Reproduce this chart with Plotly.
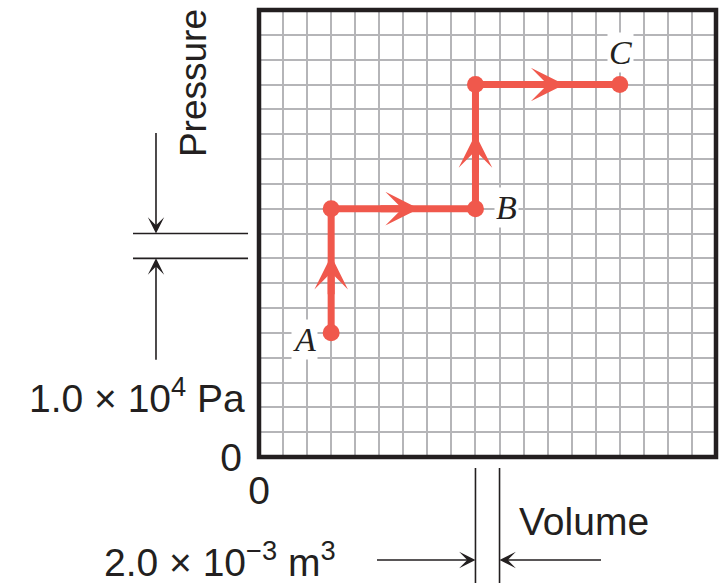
import plotly.graph_objects as go

# ---- data (volume in units of 1e-3 m^3, pressure in units of 1e4 Pa) ----
point_labels = ["A", "", "B", "", "C"]
volume = [6, 6, 18, 18, 30]
pressure = [5, 10, 10, 15, 15]

# arrowhead tip positions along the path
arrow_volume = [6, 13.3, 18, 25.4]
arrow_pressure = [8.1, 10, 13.0, 15]
arrow_dir = ["up", "right", "up", "right"]

# axis extents and grid spacing (one cell = 2.0e-3 m^3 by 1.0e4 Pa)
vol_max, vol_step = 38, 2
press_max, press_step = 18, 1
vol_ticks = list(range(0, vol_max + 1, vol_step))
press_ticks = list(range(0, press_max + 1, press_step))
vol_ticktext = ["0"] + [""] * (len(vol_ticks) - 1)
press_ticktext = ["0"] + [""] * (len(press_ticks) - 1)

# scale-bar markers (one grid cell each)
press_scale = [8, 9]
vol_scale = [18, 20]

RED = "#f0584c"
INK = "#231f20"
GRID = "#b5b5b8"
FONT = "Liberation Sans"
FS = 39

fig = go.Figure()

fig.add_trace(go.Scatter(
    x=volume, y=pressure, mode="lines+markers",
    line=dict(color=RED, width=7),
    marker=dict(color=RED, size=17),
    hoverinfo="skip", showlegend=False, cliponaxis=False,
))

annotations = []
# red arrowheads
for xv, yv, d in zip(arrow_volume, arrow_pressure, arrow_dir):
    ax, ay = (0, 40) if d == "up" else (-40, 0)
    annotations.append(dict(
        x=xv, y=yv, xref="x", yref="y", ax=ax, ay=ay, text="",
        showarrow=True, arrowhead=3, arrowcolor=RED, arrowwidth=7,
        arrowsize=0.8, standoff=0,
    ))

# point labels
label_shift = {"A": (-27, -7), "B": (31, 1), "C": (1, 32)}
for lab, xv, yv in zip(point_labels, volume, pressure):
    if not lab:
        continue
    dx, dy = label_shift[lab]
    annotations.append(dict(
        x=xv, y=yv, xref="x", yref="y", text=lab, showarrow=False,
        xshift=dx, yshift=dy, bgcolor="white", borderpad=1,
        font=dict(family="Liberation Serif", size=34, color=INK, style="italic"),
    ))

# dimension arrows (pressure scale, left)
annotations.append(dict(x=-0.2254, y=press_scale[1], xref="paper", yref="y",
                        ax=0, ay=-102, text="", showarrow=True, arrowhead=3,
                        arrowcolor=INK, arrowwidth=1.6, arrowsize=1.7))
annotations.append(dict(x=-0.2254, y=press_scale[0], xref="paper", yref="y",
                        ax=0, ay=103, text="", showarrow=True, arrowhead=3,
                        arrowcolor=INK, arrowwidth=1.6, arrowsize=1.7))
# dimension arrows (volume scale, bottom)
annotations.append(dict(x=vol_scale[0], y=-0.2304, xref="x", yref="paper",
                        ax=-100, ay=0, text="", showarrow=True, arrowhead=3,
                        arrowcolor=INK, arrowwidth=1.6, arrowsize=1.7))
annotations.append(dict(x=vol_scale[1], y=-0.2304, xref="x", yref="paper",
                        ax=103, ay=0, text="", showarrow=True, arrowhead=3,
                        arrowcolor=INK, arrowwidth=1.6, arrowsize=1.7))

# text labels
annotations.append(dict(x=-0.142, y=0.8367, xref="paper", yref="paper",
                        text="Pressure", textangle=-90, showarrow=False,
                        xanchor="center", yanchor="middle",
                        font=dict(family=FONT, size=37, color=INK)))
annotations.append(dict(x=-0.0263, y=0.138, xref="paper", yref="paper",
                        text="1.0 × 10<sup>4</sup> Pa", showarrow=False,
                        xanchor="right", yanchor="middle",
                        font=dict(family=FONT, size=FS, color=INK)))
annotations.append(dict(x=-0.0853, y=-0.2285, xref="paper", yref="paper",
                        text="2.0 × 10<sup>−3</sup> m<sup>3</sup>", showarrow=False,
                        xanchor="center", yanchor="middle",
                        font=dict(family=FONT, size=FS, color=INK)))
annotations.append(dict(x=0.5646, y=-0.1454, xref="paper", yref="paper",
                        text="Volume", showarrow=False,
                        xanchor="left", yanchor="middle",
                        font=dict(family=FONT, size=FS, color=INK)))

shapes = [
    # plot border
    dict(type="rect", xref="paper", yref="paper", x0=0, x1=1, y0=0, y1=1,
         line=dict(color=INK, width=4.5), layer="above"),
]
for pv in press_scale:
    shapes.append(dict(type="line", xref="paper", yref="y", x0=-0.2757, x1=-0.024,
                       y0=pv, y1=pv, line=dict(color=INK, width=1.6)))
for vv in vol_scale:
    shapes.append(dict(type="line", xref="x", yref="paper", x0=vv, x1=vv,
                       y0=-0.0246, y1=-0.2819, line=dict(color=INK, width=1.6)))

fig.update_layout(
    width=719, height=583, autosize=False,
    margin=dict(l=259, r=3, t=10, b=126),
    paper_bgcolor="white", plot_bgcolor="white",
    annotations=annotations, shapes=shapes,
    hovermode=False,
)
fig.update_xaxes(range=[0, vol_max], tickmode="array", tickvals=vol_ticks,
                 ticktext=vol_ticktext, showgrid=True, gridcolor=GRID, gridwidth=2,
                 zeroline=False, showline=False, ticks="", fixedrange=True,
                 ticklabelstandoff=7,
                 tickfont=dict(family=FONT, size=FS, color=INK))
fig.update_yaxes(range=[0, press_max], tickmode="array", tickvals=press_ticks,
                 ticktext=press_ticktext, showgrid=True, gridcolor=GRID, gridwidth=2,
                 zeroline=False, showline=False, ticks="", fixedrange=True,
                 ticklabelstandoff=16,
                 tickfont=dict(family=FONT, size=FS, color=INK))

# remove the default page margin so the 719x583 figure fills the window exactly
fig.write_html(
    "out.html",
    config={"displayModeBar": False},
    post_script="document.body.style.margin='0';document.body.style.overflow='hidden';",
)
